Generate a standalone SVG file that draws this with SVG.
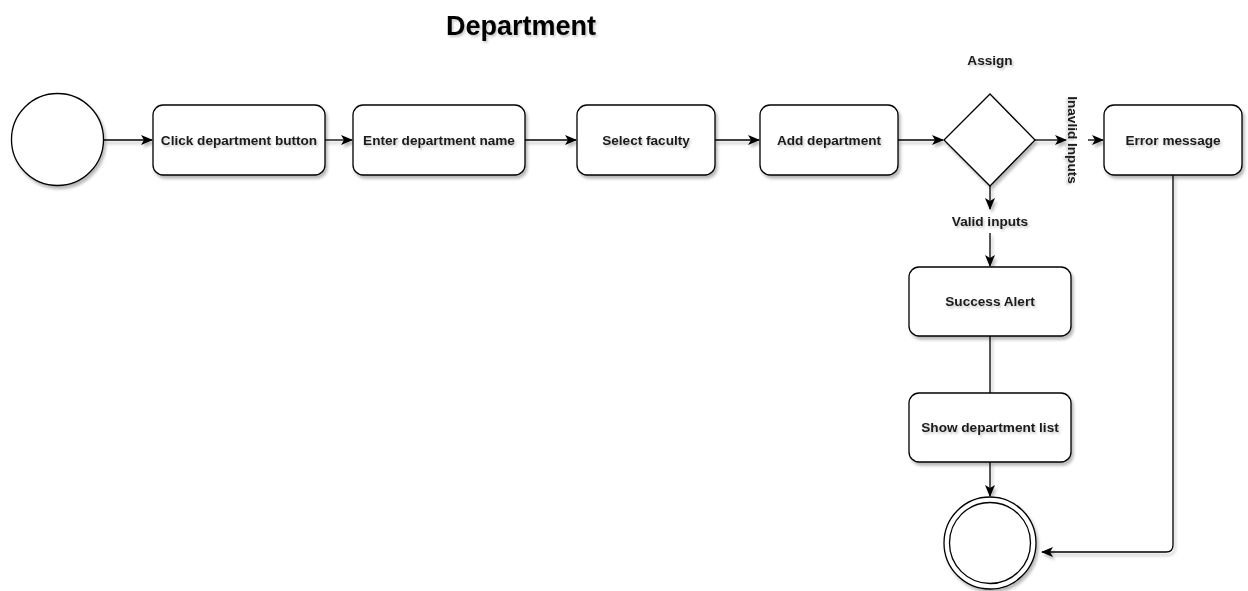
<svg xmlns="http://www.w3.org/2000/svg" width="1248" height="591" viewBox="0 0 1248 591">
  <style>
    .shape { fill: #ffffff; stroke: #000000; stroke-width: 1.3; }
    .edge { fill: none; stroke: #000000; stroke-width: 1.3; }
    .label { font-family: "Liberation Sans", Arial, sans-serif; font-weight: bold; font-size: 13.6px; fill: #1a1a1a; text-anchor: middle; dominant-baseline: central; }
    .title { font-family: "Liberation Sans", Arial, sans-serif; font-weight: bold; font-size: 27px; fill: #000000; text-anchor: middle; }
  </style>
  <defs>
    <filter id="shadow" x="-20%" y="-20%" width="150%" height="150%">
      <feDropShadow dx="2" dy="3" stdDeviation="1.4" flood-color="#000000" flood-opacity="0.28"/>
    </filter>
    <filter id="textShadow" x="-10%" y="-30%" width="130%" height="180%">
      <feDropShadow dx="1.5" dy="2" stdDeviation="1.2" flood-color="#000000" flood-opacity="0.22"/>
    </filter>
    <marker id="arrow" viewBox="0 0 12 10" refX="11" refY="5" markerWidth="12" markerHeight="10" markerUnits="userSpaceOnUse" orient="auto">
      <path d="M0,0 L12,5 L0,10 L3,5 Z" fill="#000000"/>
    </marker>
  </defs>

  <!-- title -->
  <text class="title" x="521" y="35" filter="url(#textShadow)">Department</text>

  <!-- connectors -->
  <g id="connectors" filter="url(#shadow)">
    <path class="edge" d="M103,140 H152" marker-end="url(#arrow)"/>
    <path class="edge" d="M325,140 H352" marker-end="url(#arrow)"/>
    <path class="edge" d="M525,140 H576" marker-end="url(#arrow)"/>
    <path class="edge" d="M715,140 H759" marker-end="url(#arrow)"/>
    <path class="edge" d="M898,140 H943" marker-end="url(#arrow)"/>
    <path class="edge" d="M1035,140 H1066" marker-end="url(#arrow)"/>
    <path class="edge" d="M1088,140 H1103" marker-end="url(#arrow)"/>
    <path class="edge" d="M990,186 V209" marker-end="url(#arrow)"/>
    <path class="edge" d="M990,233 V266" marker-end="url(#arrow)"/>
    <path class="edge" d="M990,336 V393"/>
    <path class="edge" d="M990,462 V496" marker-end="url(#arrow)"/>
    <path class="edge" d="M1173,175 V545 Q1173,552 1166,552 H1042" marker-end="url(#arrow)"/>
  </g>

  <!-- nodes -->
  <g id="start">
    <circle class="shape" cx="57.5" cy="139.5" r="46" filter="url(#shadow)"/>
  </g>
  <g id="click-button">
    <rect class="shape" x="153" y="105" width="172" height="70" rx="10" filter="url(#shadow)"/>
    <text class="label" x="239" y="140" filter="url(#textShadow)">Click department button</text>
  </g>
  <g id="enter-name">
    <rect class="shape" x="353" y="105" width="172" height="70" rx="10" filter="url(#shadow)"/>
    <text class="label" x="439" y="140" filter="url(#textShadow)">Enter department name</text>
  </g>
  <g id="select-faculty">
    <rect class="shape" x="577" y="105" width="138" height="70" rx="10" filter="url(#shadow)"/>
    <text class="label" x="646" y="140" filter="url(#textShadow)">Select faculty</text>
  </g>
  <g id="add-department">
    <rect class="shape" x="760" y="105" width="138" height="70" rx="10" filter="url(#shadow)"/>
    <text class="label" x="829" y="140" filter="url(#textShadow)">Add department</text>
  </g>
  <g id="assign">
    <path class="shape" d="M990,94 L1035,140 L990,186 L944,140 Z" filter="url(#shadow)"/>
    <text class="label" x="990" y="60" filter="url(#textShadow)">Assign</text>
  </g>
  <g id="invalid-label">
    <text class="label" x="0" y="0" transform="translate(1073,140) rotate(90)" filter="url(#textShadow)">Inavlid Inputs</text>
  </g>
  <g id="valid-label">
    <text class="label" x="990" y="221" filter="url(#textShadow)">Valid inputs</text>
  </g>
  <g id="error-message">
    <rect class="shape" x="1104" y="105" width="138" height="70" rx="10" filter="url(#shadow)"/>
    <text class="label" x="1173" y="140" filter="url(#textShadow)">Error message</text>
  </g>
  <g id="success-alert">
    <rect class="shape" x="909" y="267" width="162" height="69" rx="10" filter="url(#shadow)"/>
    <text class="label" x="990" y="301.5" filter="url(#textShadow)">Success Alert</text>
  </g>
  <g id="show-list">
    <rect class="shape" x="909" y="393" width="162" height="69" rx="10" filter="url(#shadow)"/>
    <text class="label" x="990" y="427.5" filter="url(#textShadow)">Show department list</text>
  </g>
  <g id="end">
    <circle class="shape" cx="990" cy="543" r="46" filter="url(#shadow)"/>
    <circle class="shape" cx="990" cy="543" r="40.5"/>
  </g>
</svg>
